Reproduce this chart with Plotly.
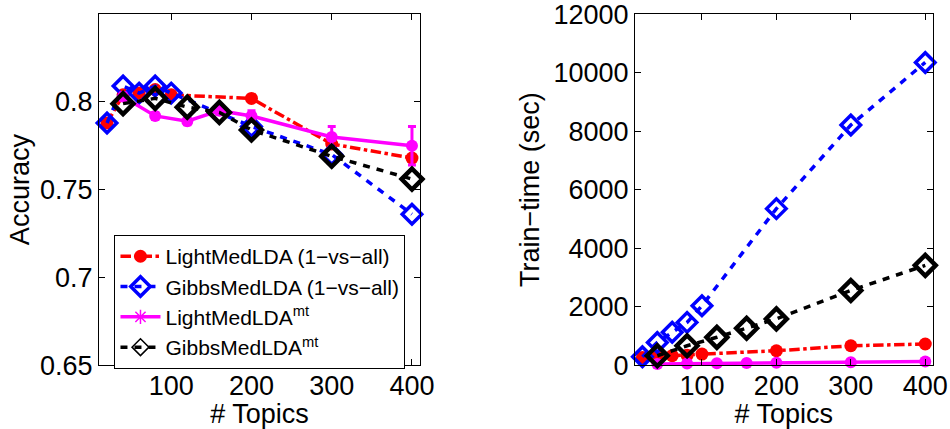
import plotly.graph_objects as go
from plotly.subplots import make_subplots

# ---- data ----
topics_ova = [20, 40, 60, 80, 100, 200, 300, 400]
topics_mt = [40, 80, 120, 160, 200, 300, 400]

acc_light_ova = [0.788, 0.804, 0.805, 0.807, 0.804, 0.802, 0.776, 0.768]
acc_gibbs_ova = [0.788, 0.809, 0.805, 0.809, 0.805, 0.786, 0.770, 0.736]
acc_light_mt = [0.803, 0.792, 0.789, 0.795, 0.792, 0.780, 0.775]
acc_light_mt_err = [0.002, 0.002, 0.002, 0.002, 0.003, 0.006, 0.011]
acc_gibbs_mt = [0.799, 0.802, 0.797, 0.794, 0.784, 0.769, 0.756]

time_light_ova = [260, 290, 320, 340, 377, 490, 660, 720]
time_gibbs_ova = [285, 775, 1120, 1460, 2030, 5350, 8210, 10350]
time_light_mt = [40, 50, 60, 70, 80, 100, 120]
time_gibbs_mt = [320, 660, 950, 1260, 1580, 2550, 3410]

acc_ticks = [0.65, 0.7, 0.75, 0.8]
acc_ticktext = ["0.65", "0.7", "0.75", "0.8"]
time_ticks = [0, 2000, 4000, 6000, 8000, 10000, 12000]
time_ticktext = ["0", "2000", "4000", "6000", "8000", "10000", "12000"]
topic_ticks = [100, 200, 300, 400]

names = ["LightMedLDA (1\u2212vs\u2212all)", "GibbsMedLDA (1\u2212vs\u2212all)",
         "LightMedLDA<sup>mt</sup>", "GibbsMedLDA<sup>mt</sup>"]

FONT = "Liberation Sans, Arial, Helvetica, sans-serif"
FS = 27

fig = make_subplots(rows=1, cols=2)

def add_series(col, ys_lo, ys_go, ys_lm, ys_gm, err_lm, legend):
    fig.add_trace(go.Scatter(x=topics_ova, y=ys_lo, mode="lines+markers", name=names[0],
                             line=dict(color="#ff0000", width=3.5, dash="dashdot"),
                             marker=dict(symbol="circle", size=13, color="#ff0000"),
                             cliponaxis=False, showlegend=legend), row=1, col=col)
    fig.add_trace(go.Scatter(x=topics_ova, y=ys_go, mode="lines+markers", name=names[1],
                             line=dict(color="#0000ff", width=3.5, dash="7px,7px"),
                             marker=dict(symbol="diamond-open", size=15, color="#0000ff",
                                         line=dict(width=3.5, color="#0000ff")),
                             cliponaxis=False, showlegend=legend), row=1, col=col)
    fig.add_trace(go.Scatter(x=topics_mt, y=ys_lm, mode="lines+markers", name=names[2],
                             line=dict(color="#ff00ff", width=3.5),
                             marker=dict(symbol="circle", size=12, color="#ff00ff"),
                             error_y=(dict(type="data", array=err_lm, color="#ff00ff",
                                           thickness=3, width=4) if err_lm else None),
                             cliponaxis=False, showlegend=False), row=1, col=col)
    fig.add_trace(go.Scatter(x=topics_mt, y=ys_gm, mode="lines+markers", name=names[3],
                             line=dict(color="#000000", width=3.5, dash="7px,7px"),
                             marker=dict(symbol="diamond-open", size=16, color="#000000",
                                         line=dict(width=4.5, color="#000000")),
                             cliponaxis=False, showlegend=False), row=1, col=col)

add_series(1, acc_light_ova, acc_gibbs_ova, acc_light_mt, acc_gibbs_mt, acc_light_mt_err, True)
add_series(2, time_light_ova, time_gibbs_ova, time_light_mt, time_gibbs_mt, None, False)

# legend-only entries for the mt series (asterisk / thin diamond as in the original legend)
fig.add_trace(go.Scatter(x=[None], y=[None], mode="lines+markers", name=names[2],
                         line=dict(color="#ff00ff", width=3.5),
                         marker=dict(symbol="asterisk-open", size=12,
                                     line=dict(width=1.5, color="#ff00ff")),
                         showlegend=True), row=1, col=1)
fig.add_trace(go.Scatter(x=[None], y=[None], mode="lines+markers", name=names[3],
                         line=dict(color="#000000", width=3.5, dash="7px,7px"),
                         marker=dict(symbol="diamond-open", size=13, color="#000000",
                                     line=dict(width=1.5, color="#000000")),
                         showlegend=True), row=1, col=1)

axis_common = dict(showline=True, linecolor="black", linewidth=1, mirror="ticks",
                   ticks="inside", ticklen=6, tickcolor="black", showgrid=False,
                   zeroline=False, ticklabeloverflow="allow", automargin=False,
                   tickfont=dict(size=FS, color="black", family=FONT))
title_font = dict(size=FS, color="black", family=FONT)

fig.update_xaxes(**axis_common, range=[10, 410], tickvals=topic_ticks,
                 ticklabelstandoff=-3,
                 title=dict(text="# Topics", font=title_font, standoff=5))
fig.update_xaxes(domain=[0.1042, 0.4421], row=1, col=1)
fig.update_xaxes(domain=[0.6684, 0.9818], row=1, col=2)

fig.update_yaxes(**axis_common)
fig.update_yaxes(domain=[0.149, 0.967])
fig.update_yaxes(range=[0.65, 0.85], tickvals=acc_ticks, ticktext=acc_ticktext,
                 title=dict(text="Accuracy", font=title_font, standoff=2), row=1, col=1)
fig.update_yaxes(range=[0, 12000], tickvals=time_ticks, ticktext=time_ticktext,
                 title=dict(text="Train\u2212time (sec)", font=title_font, standoff=6),
                 row=1, col=2)

fig.update_layout(
    width=950, height=429,
    margin=dict(l=0, r=0, t=0, b=0),
    paper_bgcolor="white", plot_bgcolor="white",
    font=dict(family=FONT, color="black"),
    legend=dict(x=0.1205, y=0.452, xanchor="left", yanchor="top",
                bordercolor="black", borderwidth=1, bgcolor="white",
                font=dict(size=21, color="black", family=FONT),
                tracegroupgap=0, itemwidth=40),
)

fig.write_html("out.html", config={"displayModeBar": False},
               post_script="document.body.style.margin='0';document.body.style.overflow='hidden';")
